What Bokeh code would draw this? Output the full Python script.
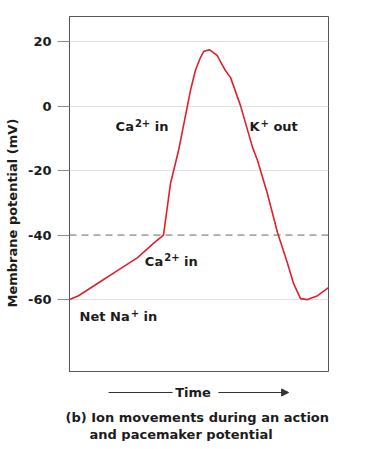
from bokeh.plotting import figure
from bokeh.layouts import column
from bokeh.models import (Range1d, FixedTicker, Span, Label, Arrow, NormalHead,
                          CustomJSTickFormatter, Title)
from bokeh.embed import file_html
from bokeh.resources import INLINE

# ---- data ----
time = [0, 3.5, 10.8, 18.5, 26.3, 32.4, 36.3, 39.0, 42.1, 46.7, 48.6, 50.6, 51.9, 54.1,
        57.0, 60.2, 62.2, 66.0, 70.7, 72.6, 76.4, 80.3, 84.2, 86.5, 89.2, 91.9, 95.8, 100]
mv = [-60, -58.8, -55, -51, -47, -42.6, -40, -24, -13.8, 4.8, 11, 15.1, 17.0, 17.4,
      15.7, 11, 8.8, 0.2, -12.9, -16.9, -27.1, -39.2, -48.8, -55, -59.7, -60, -58.8, -56.3]
y_ticks = [20, 0, -20, -40, -60]
grid_ticks = [20, 0, -20, -60]
threshold = -40

FONT = "DejaVu Sans"
TXT = "#1c1c1c"
LB, RB = 69, 30
W = LB + 259 + RB

xr = Range1d(0, 100)
p = figure(width=W, height=372, output_backend="svg", toolbar_location=None,
           x_range=xr, y_range=Range1d(-82.6, 27.75),
           x_axis_location=None, min_border_left=LB, min_border_right=RB,
           min_border_top=16, min_border_bottom=0)
p.background_fill_color = "white"
p.border_fill_color = "white"
p.outline_line_color = "#555555"
p.outline_line_width = 1

p.xgrid.visible = False
p.ygrid.ticker = FixedTicker(ticks=grid_ticks)
p.ygrid.grid_line_color = "#e2e2e2"
p.ygrid.grid_line_width = 1

ax = p.yaxis[0]
ax.ticker = FixedTicker(ticks=y_ticks)
ax.formatter = CustomJSTickFormatter(code="return String(tick);")
ax.major_tick_in = 0
ax.major_tick_out = 12
ax.major_tick_line_color = "#8a8a8a"
ax.minor_tick_line_color = None
ax.axis_line_color = "#555555"
ax.major_label_text_font = FONT
ax.major_label_text_font_style = "bold"
ax.major_label_text_font_size = "13px"
ax.major_label_text_color = TXT
ax.major_label_standoff = 6

# y-axis title, placed a little below the frame centre as in the original
p.add_layout(Title(text="Membrane potential (mV)", align="left", offset=65,
                   vertical_align="top", standoff=8,
                   text_font=FONT, text_font_style="bold", text_font_size="13px",
                   text_color=TXT), "left")

p.add_layout(Span(location=threshold, dimension="width", line_color="#666666",
                  line_width=1, line_dash="7 5"))

p.line(time, mv, line_color="#e0202a", line_width=1.6)


def lab(fig, x, y, text, size="13px", xo=0, yo=0, baseline="alphabetic", align="left"):
    fig.add_layout(Label(x=x, y=y, text=text, x_offset=xo, y_offset=yo,
                         text_font=FONT, text_font_style="bold", text_font_size=size,
                         text_color=TXT, text_baseline=baseline, text_align=align))


SPACE = 4.5


def sup_label(x, y, base, base_w, sup, sup_w, rest):
    lab(p, x, y, base)
    lab(p, x, y, sup, size="10px", xo=base_w + 1, yo=4)
    lab(p, x, y, rest, xo=base_w + 1 + sup_w + SPACE)


sup_label(17.8, -6.4, "Ca", 18.3, "2+", 15.3, "in")
sup_label(69.5, -6.4, "K", 10.0, "+", 8.4, "out")
sup_label(29.1, -48.1, "Ca", 18.3, "2+", 15.3, "in")
sup_label(3.9, -65.3, "Net Na", 50.1, "+", 8.4, "in")

# ---- bottom strip: "Time" arrow and caption ----
q = figure(width=W, height=69, output_backend="svg", toolbar_location=None,
           x_range=xr, y_range=Range1d(-82.6 - 35 * 0.3101, -82.6),
           x_axis_location=None, y_axis_location=None,
           min_border_left=LB, min_border_right=RB, min_border_top=0, min_border_bottom=2)
q.outline_line_color = None
q.grid.visible = False
q.background_fill_color = "white"
q.border_fill_color = "white"

lab(q, 47.7, -88.8, "Time", baseline="middle", align="center")
q.add_layout(Arrow(x_start=15.1, y_start=-88.8, x_end=39.8, y_end=-88.8, end=None,
                   line_color="#333333", line_width=1.2))
q.add_layout(Arrow(x_start=57.5, y_start=-88.8, x_end=84.6, y_end=-88.8,
                   end=NormalHead(size=7, fill_color="#333333", line_color="#333333"),
                   line_color="#333333", line_width=1.2))

for text, off in [("(b) Ion movements during an action", -4),
                  ("and pacemaker potential", 20)]:
    q.add_layout(Title(text=text, align="left", offset=off, standoff=0,
                       text_font=FONT, text_font_style="bold", text_font_size="13px",
                       text_color=TXT), "below")

layout = column(p, q, spacing=0)
open("out.html", "w").write(file_html(layout, INLINE))
